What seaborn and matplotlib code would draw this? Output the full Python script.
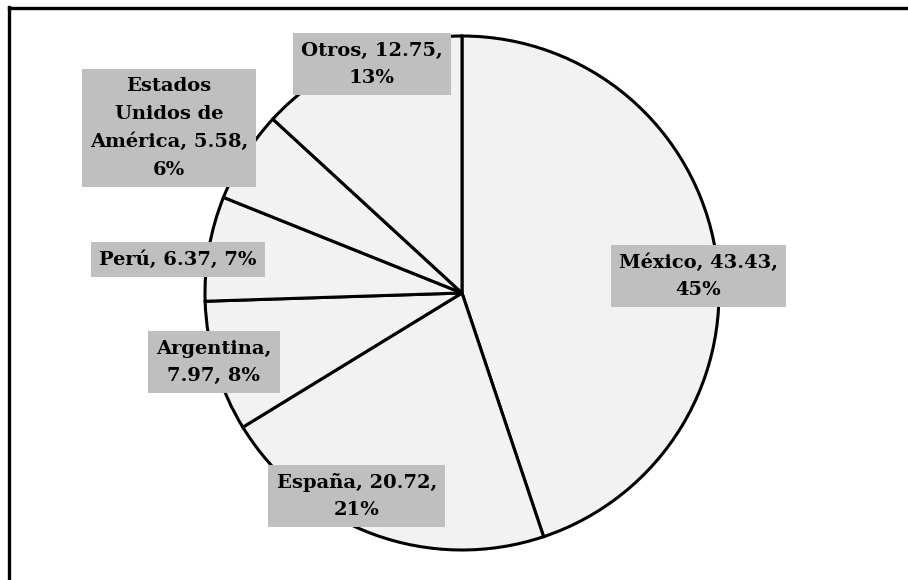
import matplotlib
matplotlib.use("Agg")
import matplotlib.pyplot as plt
from matplotlib.lines import Line2D
import seaborn as sns

# datos del grafico
paises = ["México", "España", "Argentina", "Perú", "Estados\nUnidos de\nAmérica", "Otros"]
valores = [43.43, 20.72, 7.97, 6.37, 5.58, 12.75]
porcentajes = ["45%", "21%", "8%", "7%", "6%", "13%"]

# texto de cada etiqueta (con saltos de linea como en el original)
etiquetas = [
    "México, 43.43,\n45%",
    "España, 20.72,\n21%",
    "Argentina,\n7.97, 8%",
    "Perú, 6.37, 7%",
    "Estados\nUnidos de\nAmérica, 5.58,\n6%",
    "Otros, 12.75,\n13%",
]
# posicion de cada etiqueta (en radios del pastel)
pos_etiquetas = [
    (0.92, 0.065),
    (-0.41, -0.79),
    (-0.965, -0.27),
    (-1.105, 0.13),
    (-1.14, 0.642),
    (-0.35, 0.89),
]

sns.set_theme(style="white")
plt.rcParams["font.family"] = ["DejaVu Serif"]

W, H = 908, 580
fig = plt.figure(figsize=(W / 100, H / 100), dpi=100)
fig.patch.set_facecolor("white")

cx, cy, r = 462, 293, 257
ax = fig.add_axes([(cx - r) / W, (H - cy - r) / H, 2 * r / W, 2 * r / H])

ax.pie(valores, startangle=90, counterclock=False,
       colors=["#f2f2f2"] * len(valores),
       wedgeprops=dict(edgecolor="black", linewidth=2.2))
ax.set_xlim(-1, 1)
ax.set_ylim(-1, 1)
ax.set_aspect("auto")
ax.axis("off")

for txt, (x, y) in zip(etiquetas, pos_etiquetas):
    ax.text(x, y, txt, ha="center", va="center", fontsize=14,
            fontweight="bold", color="black", linespacing=1.68, clip_on=False,
            bbox=dict(boxstyle="square,pad=0.42", facecolor="#bfbfbf", edgecolor="none"))

# marco del grafico (solo bordes izquierdo y superior visibles)
fig.add_artist(Line2D([8.5 / W, 8.5 / W], [0, 1 - 7 / H], transform=fig.transFigure,
                      color="black", linewidth=2.4, solid_capstyle="projecting"))
fig.add_artist(Line2D([8.5 / W, 1], [1 - 8 / H, 1 - 8 / H], transform=fig.transFigure,
                      color="black", linewidth=2.4, solid_capstyle="projecting"))

fig.savefig("out.png", dpi=100, facecolor="white")
